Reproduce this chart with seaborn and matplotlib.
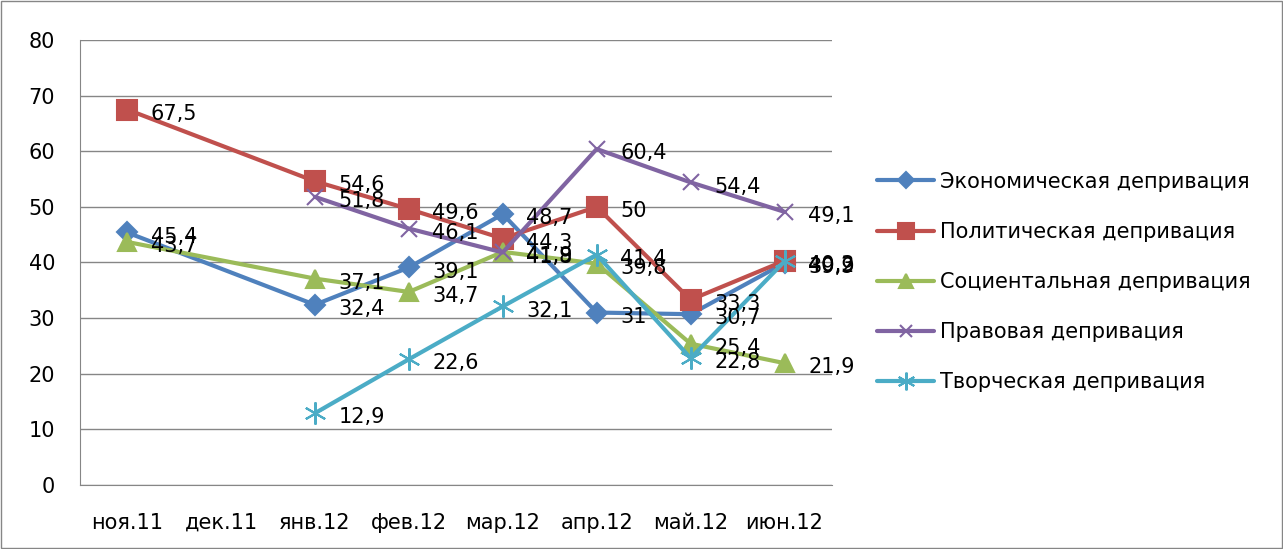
import numpy as np
import pandas as pd
import matplotlib
matplotlib.use("Agg")
import matplotlib.pyplot as plt
import seaborn as sns

sns.set_style("white")
plt.rcParams['font.family'] = ['DejaVu Sans']
plt.rcParams['text.color'] = 'black'
plt.rcParams['xtick.color'] = 'black'
plt.rcParams['ytick.color'] = 'black'

months = ['ноя.11', 'дек.11', 'янв.12', 'фев.12', 'мар.12', 'апр.12', 'май.12', 'июн.12']
series_names = ['Экономическая депривация', 'Политическая депривация',
                'Социентальная депривация', 'Правовая депривация',
                'Творческая депривация']
economic = [45.4, np.nan, 32.4, 39.1, 48.7, 31.0, 30.7, 39.9]
political = [67.5, np.nan, 54.6, 49.6, 44.3, 50.0, 33.3, 40.3]
societal = [43.7, np.nan, 37.1, 34.7, 41.9, 39.8, 25.4, 21.9]
legal = [np.nan, np.nan, 51.8, 46.1, 41.8, 60.4, 54.4, 49.1]
creative = [np.nan, np.nan, 12.9, 22.6, 32.1, 41.4, 22.8, 40.2]
yticks = [0, 10, 20, 30, 40, 50, 60, 70, 80]

values = [economic, political, societal, legal, creative]
colors = ['#4F81BD', '#C0504D', '#9BBB59', '#8064A2', '#4BACC6']
asterisk = (6, 2, 0)
markers = ['D', 's', '^', 'x', asterisk]
msizes = [10, 14, 13, 11, 16]

rows = []
for name, vals in zip(series_names, values):
    for i, v in enumerate(vals):
        rows.append({'pos': i, 'value': v, 'series': name})
df = pd.DataFrame(rows)

fig = plt.figure(figsize=(12.83, 5.49), dpi=100)
ax = fig.add_axes([0.0624, 0.1166, 0.5857, 0.8106])

for name, color, mk, ms in zip(series_names, colors, markers, msizes):
    sub = df[df['series'] == name].dropna()
    sns.lineplot(data=sub, x='pos', y='value', ax=ax, color=color, lw=3,
                 marker=mk, markersize=ms, markeredgecolor=color,
                 markeredgewidth=1.5, label=name)
    for _, r in sub.iterrows():
        txt = ('%.1f' % r['value']).rstrip('0').rstrip('.').replace('.', ',')
        ax.annotate(txt, (r['pos'], r['value']), xytext=(17, -3),
                    textcoords='offset points', fontsize=15, va='center',
                    ha='left', color='black')

ax.set_xlim(-0.5, 7.5)
ax.set_ylim(0, 80)
ax.set_xticks(range(len(months)))
ax.set_xticklabels(months, fontsize=15)
ax.set_yticks(yticks)
ax.set_yticklabels([str(t) for t in yticks], fontsize=15)
ax.set_xlabel('')
ax.set_ylabel('')
ax.grid(axis='y', color='#868686', lw=1)
ax.set_axisbelow(True)
for s in ['top', 'right']:
    ax.spines[s].set_visible(False)
ax.spines['left'].set_color('#868686')
ax.spines['bottom'].set_color('#868686')
ax.tick_params(axis='x', length=0, pad=20)
ax.tick_params(axis='y', length=0, pad=18)

leg = ax.legend(loc='center left', bbox_to_anchor=(1.05, 0.456), frameon=False,
                fontsize=15, labelspacing=1.45, handlelength=2.7,
                handletextpad=0.3, borderaxespad=0, markerscale=0.8)
for t in leg.get_texts():
    t.set_color('black')

fig.patches.append(plt.Rectangle((0.001, 0.002), 0.998, 0.996,
                                 transform=fig.transFigure, fill=False,
                                 edgecolor='#868686', lw=1))

fig.savefig('out.png', dpi=100)
